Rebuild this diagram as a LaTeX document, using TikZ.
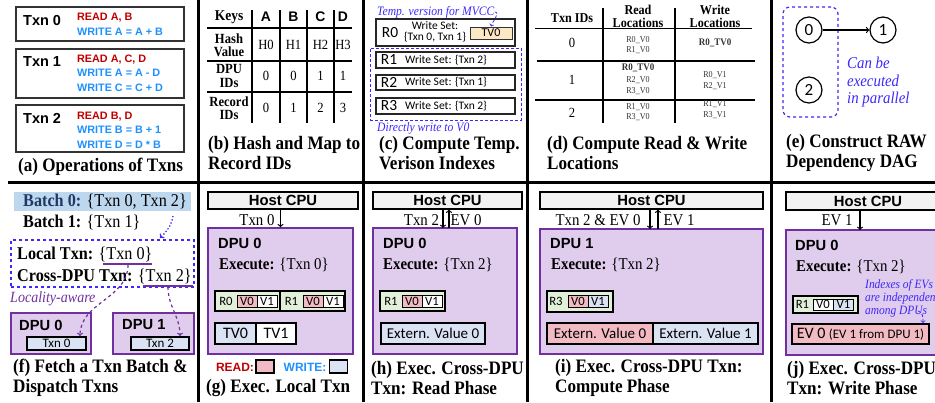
\documentclass[tikz,border=0pt]{standalone}
\usepackage{fontspec}
\setmainfont{Liberation Serif}[FakeStretch=0.9]
\setsansfont{Liberation Sans}
\newfontfamily\calfont{Carlito}
\newcommand{\fsz}[2]{\fontsize{#1}{#2}\selectfont}
\definecolor{rdtxt}{RGB}{192,0,0}
\definecolor{bltxt}{RGB}{30,144,255}
\definecolor{notecol}{RGB}{60,40,250}
\definecolor{dpupurple}{RGB}{112,48,160}
\definecolor{dpufill}{RGB}{224,204,236}
\definecolor{readfill}{RGB}{242,186,194}
\definecolor{writefill}{RGB}{218,227,243}
\definecolor{recfill}{RGB}{226,240,217}
\definecolor{tvfill}{RGB}{252,232,196}
\definecolor{hostfill}{RGB}{242,242,242}
\definecolor{batchfill}{RGB}{189,215,238}
\definecolor{batchtxt}{RGB}{31,56,100}
\tikzstyle{caption}=[anchor=west, inner sep=0pt, align=left, font=\bfseries\fsz{19}{20}]
\tikzstyle{frame}=[line width=3pt]
\tikzstyle{opbox}=[draw=black!80, line width=1.2pt, minimum width=168pt, inner sep=0pt]
\tikzstyle{txnlbl}=[anchor=west, inner sep=0pt, font=\sffamily\bfseries\fsz{14.5}{16}]
\tikzstyle{ops}=[anchor=west, inner sep=0pt, align=left, font=\sffamily\bfseries\fsz{10.8}{14.5}]
\tikzstyle{tbl}=[line width=1.4pt]
\tikzstyle{hdr}=[inner sep=0pt, align=center, font=\bfseries\fsz{15}{12}]
\tikzstyle{colhdr}=[inner sep=0pt, align=center, font=\bfseries\fsz{13.5}{12.5}]
\tikzstyle{colkey}=[inner sep=0pt, font=\sffamily\bfseries\fsz{13.9}{14}]
\tikzstyle{rowlbl}=[inner sep=0pt, align=center, font=\bfseries\fsz{14}{13.3}]
\tikzstyle{val}=[inner sep=0pt, font=\fsz{14}{14}]
\tikzstyle{note}=[inner sep=0pt, text=notecol, font=\itshape\fsz{12.9}{13}]
\tikzstyle{recrow}=[draw=black!85, line width=1.3pt, minimum width=139pt, inner sep=0pt]
\tikzstyle{rid}=[inner sep=0pt, font=\calfont\fsz{15.5}{16}]
\tikzstyle{wset}=[inner sep=0pt, align=center, font=\calfont\fsz{11.5}{11}]
\tikzstyle{loc}=[inner sep=0pt, align=center, text=black!80, font=\fsz{9}{10.5}]
\tikzstyle{state}=[circle, draw, line width=1.2pt, minimum size=26pt, inner sep=0pt, font=\calfont\fsz{17}{17}]
\tikzstyle{btxt}=[anchor=west, inner sep=0pt, font=\fsz{18}{20}]
\tikzstyle{dpu}=[draw=dpupurple, fill=dpufill, line width=1.5pt, inner sep=0pt]
\tikzstyle{dpulbl}=[anchor=west, inner sep=0pt, font=\sffamily\bfseries\fsz{14.7}{15}]
\tikzstyle{txcell}=[draw, fill=writefill, line width=1.1pt, minimum height=13pt, inner sep=0pt, font=\calfont\fsz{13}{13}]
\tikzstyle{host}=[draw, fill=hostfill, line width=1.1pt, inner sep=0pt, font=\sffamily\bfseries\fsz{14.8}{15}]
\tikzstyle{flow}=[->, line width=1.2pt]
\tikzstyle{lbl}=[inner sep=0pt, font=\fsz{16.5}{17}]
\tikzstyle{exec}=[anchor=west, inner sep=0pt, font=\fsz{16.5}{17}]
\tikzstyle{rec}=[draw, fill=recfill, line width=1.1pt, minimum width=65pt, minimum height=20pt, inner sep=0pt]
\tikzstyle{rlbl}=[inner sep=0pt, font=\calfont\fsz{12.7}{13}]
\tikzstyle{cell}=[draw, fill=white, line width=0.9pt, minimum width=20pt, minimum height=12pt, inner sep=0pt, font=\calfont\fsz{12.7}{13}]
\tikzstyle{wide}=[draw, fill=white, line width=1.1pt, minimum height=21pt, inner sep=0pt, font=\calfont\fsz{15}{16}]
\tikzstyle{swatch}=[draw, line width=1.2pt, minimum width=18pt, minimum height=13pt, inner sep=0pt]
\begin{document}
\begin{tikzpicture}[x=1pt, y=-1pt]
\useasboundingbox (0, 0) rectangle (935, 402);
\draw[frame] (8, 182) -- (935, 182);
\draw[frame] (198, 0) -- (198, 402);
\draw[frame] (363, 0) -- (363, 402);
\draw[frame] (527, 0) -- (527, 402);
\draw[frame] (771, 0) -- (771, 402);

\node[opbox, minimum height=34pt] at (100, 24) (box0) {};
\node[opbox, minimum height=49pt] at (100, 73.5) (box1) {};
\node[opbox, minimum height=47pt] at (100, 128.5) (box2) {};
\node[txnlbl] at (23, 21) (lbl0) {Txn 0};
\node[txnlbl] at (23, 62) (lbl1) {Txn 1};
\node[txnlbl] at (23, 118) (lbl2) {Txn 2};
\node[ops] at (77, 24.5) (ops0) {\textcolor{rdtxt}{READ A, B}\\\textcolor{bltxt}{WRITE A = A + B}};
\node[ops] at (77, 73) (ops1) {\textcolor{rdtxt}{READ A, C, D}\\\textcolor{bltxt}{WRITE A = A - D}\\\textcolor{bltxt}{WRITE C = C + D}};
\node[ops] at (77, 130) (ops2) {\textcolor{rdtxt}{READ B, D}\\\textcolor{bltxt}{WRITE B = B + 1}\\\textcolor{bltxt}{WRITE D = D * B}};
\node[caption] at (18, 167) (capa) {(a) Operations of Txns};

\draw[tbl] (252, 10) -- (252, 123);
\draw[tbl] (280, 10) -- (280, 123);
\draw[tbl] (307, 10) -- (307, 123);
\draw[tbl] (334, 10) -- (334, 123);
\draw[tbl] (207, 28) -- (352, 28);
\draw[tbl] (207, 61) -- (352, 61);
\draw[tbl] (207, 92) -- (352, 92);
\node[hdr] at (229, 17) (keys) {Keys};
\node[colkey] at (266, 17) (ka) {A};
\node[colkey] at (293.5, 17) (kb) {B};
\node[colkey] at (320.5, 17) (kc) {C};
\node[colkey] at (343, 17) (kd) {D};
\node[rowlbl] at (229, 45) (hashrow) {Hash\\Value};
\node[rowlbl] at (229, 76) (dpurow) {DPU\\IDs};
\node[rowlbl] at (229, 108) (recrow) {Record\\IDs};
\node[val] at (266, 45) (ha) {H0};
\node[val] at (293.5, 45) (hb) {H1};
\node[val] at (320.5, 45) (hc) {H2};
\node[val] at (343, 45) (hd) {H3};
\node[val] at (266, 76) (da) {0};
\node[val] at (293.5, 76) (db) {0};
\node[val] at (320.5, 76) (dc) {1};
\node[val] at (343, 76) (dd) {1};
\node[val] at (266, 108) (ra) {0};
\node[val] at (293.5, 108) (rb) {1};
\node[val] at (320.5, 108) (rc) {2};
\node[val] at (343, 108) (rd) {3};
\node[caption] at (208, 153) (capb) {(b) Hash and Map to\\Record IDs};

\node[note, anchor=west] at (377, 12) (mvcc) {Temp. version for MVCC};
\node[recrow, minimum height=27pt] at (445.5, 32.5) (r0row) {};
\node[rid] at (390, 32.5) (r0id) {R0};
\node[wset] at (435, 31.5) (r0set) {Write Set:\\\{Txn 0, Txn 1\}};
\node[draw=black!80, fill=tvfill, line width=1pt, minimum width=42pt, minimum height=12pt, inner sep=0pt, font=\calfont\fsz{12}{12}] at (491, 33) (tv0c) {TV0};
\draw[->, densely dashed, notecol, line width=0.8pt] (mvcc.east) to[out=0, in=70] (tv0c.north);
\node[draw=notecol, densely dashed, line width=1pt, minimum width=151pt, minimum height=72pt, inner sep=0pt] at (445.5, 84) (dgroup) {};
\node[recrow, minimum height=16pt] at (445.5, 60) (r1row) {};
\node[rid] at (389, 60) (r1id) {R1};
\node[wset] at (446, 60) (r1set) {Write Set: \{Txn 2\}};
\node[recrow, minimum height=15pt] at (445.5, 82.5) (r2row) {};
\node[rid] at (389, 82.5) (r2id) {R2};
\node[wset] at (446, 82.5) (r2set) {Write Set: \{Txn 1\}};
\node[recrow, minimum height=16pt] at (445.5, 106) (r3row) {};
\node[rid] at (389, 106) (r3id) {R3};
\node[wset] at (446, 106) (r3set) {Write Set: \{Txn 2\}};
\node[note, anchor=west] at (377, 128) (direct) {Directly write to V0};
\node[caption] at (379, 153) (capc) {(c) Compute Temp.\\Verison Indexes};

\draw[tbl] (603, 8) -- (603, 123);
\draw[tbl] (675, 8) -- (675, 123);
\draw[line width=0.8pt] (535, 28) -- (752, 28);
\draw[line width=1.8pt] (537, 61) -- (755, 61);
\draw[tbl] (535, 100) -- (755, 100);
\node[colhdr] at (572, 18) (tidh) {Txn IDs};
\node[colhdr] at (638, 16.5) (rlh) {Read\\Locations};
\node[colhdr] at (715, 16.5) (wlh) {Write\\Locations};
\node[val] at (572, 43) (tid0) {0};
\node[val] at (572, 80) (tid1) {1};
\node[val] at (572, 113) (tid2) {2};
\node[loc] at (638, 45) (rd0) {R0\_V0\\R1\_V0};
\node[loc] at (715, 43) (wr0) {\textbf{\fsz{10}{10.5}R0\_TV0}};
\node[loc, font=\fsz{9}{11.5}] at (638, 79.5) (rd1) {\textbf{\fsz{10}{11.5}R0\_TV0}\\R2\_V0\\R3\_V0};
\node[loc] at (715, 80.5) (wr1) {R0\_V1\\R2\_V1};
\node[loc] at (638, 112) (rd2) {R1\_V0\\R3\_V0};
\node[loc] at (715, 109.5) (wr2) {R1\_V1\\R3\_V1};
\node[caption] at (547, 153) (capd) {(d) Compute Read \& Write\\Locations};

\node[draw=notecol, dashed, line width=1.2pt, rounded corners=7pt, minimum width=55pt, minimum height=110pt, inner sep=0pt] at (810.5, 62) (pgroup) {};
\node[state] at (809, 30) (n0) {0};
\node[state] at (883, 30) (n1) {1};
\node[state] at (809, 90) (n2) {2};
\draw[->, line width=1.2pt] (n0) -- (n1);
\node[note, anchor=west, align=left, font=\itshape\fsz{16.5}{17.5}] at (847, 82.5) (partxt) {Can be\\executed\\in parallel};
\node[caption] at (786, 153) (cape) {(e) Construct RAW\\Dependency DAG};

\node[fill=batchfill, minimum width=177pt, minimum height=19pt, inner sep=0pt] at (102.5, 201.5) (bhl) {};
\node[btxt] at (23, 202) (b0) {\textcolor{batchtxt}{\textbf{Batch 0:}} \{Txn 0, Txn 2\}};
\node[btxt] at (23, 222) (b1) {\textbf{Batch 1:} \{Txn 1\}};
\node[draw=notecol, dashed, line width=1.2pt, minimum width=183pt, minimum height=47pt, inner sep=0pt] at (102.5, 263.5) (dbox) {};
\coordinate (dotstart) at (173, 216);
\coordinate (dotend) at (160, 238);
\draw[->, dotted, line width=1.3pt, notecol] (dotstart) to[out=-100, in=45] (dotend);
\node[btxt] at (17, 254) (loctx) {\textbf{Local Txn:} \{Txn 0\}};
\node[btxt] at (17, 276) (crosstx) {\textbf{Cross-DPU Txn:} \{Txn 2\}};
\coordinate (u0a) at (103, 264);
\coordinate (u0b) at (152, 264);
\coordinate (u2a) at (143, 286);
\coordinate (u2b) at (193, 286);
\draw[dpupurple, line width=1.6pt] (u0a) -- (u0b);
\draw[dpupurple, line width=1.6pt] (u2a) -- (u2b);
\node[anchor=west, inner sep=0pt, text=dpupurple, font=\itshape\fsz{15.6}{16}] at (10, 299) (lawr) {Locality-aware};
\node[dpu, minimum width=80pt, minimum height=41pt] at (51, 333.5) (fdpu0) {};
\node[dpulbl] at (19, 325) (fdpu0l) {DPU 0};
\node[txcell, minimum width=59pt] at (56.5, 343.5) (ftx0) {Txn 0};
\node[dpu, minimum width=81pt, minimum height=41pt] at (153.5, 333.5) (fdpu1) {};
\node[dpulbl] at (122, 325) (fdpu1l) {DPU 1};
\node[txcell, minimum width=58pt] at (160, 343.5) (ftx2) {Txn 2};
\coordinate (s0) at (128, 265);
\coordinate (e0) at (80, 336);
\coordinate (s2) at (168, 287);
\coordinate (e2) at (180, 336);
\draw[->, dashed, dpupurple, line width=1.2pt] (s0) to[out=-90, in=90] (e0);
\draw[->, dashed, dpupurple, line width=1.2pt] (s2) to[out=-90, in=90] (e2);
\node[caption] at (13, 378) (capf) {(f) Fetch a Txn Batch \&\\Dispatch Txns};

\node[host, minimum width=150pt, minimum height=17pt] at (283, 200.5) (hostg) {Host CPU};
\node[dpu, minimum width=145pt, minimum height=126pt] at (280.5, 291) (dpug) {};
\draw[flow] (dpug.north |- hostg.south) -- (dpug.north);
\node[lbl] at (257, 220) (sendg) {Txn 0};
\node[dpulbl] at (218, 243) (dpugl) {DPU 0};
\node[exec] at (219, 265) (execg) {\textbf{Execute:} \{Txn 0\}};
\node[rec] at (247.5, 301) (rec0g) {};
\node[rlbl] at (226, 301) (rid0g) {R0};
\node[cell, fill=readfill] at (247, 301) (v00g) {V0};
\node[cell] at (267, 301) (v01g) {V1};
\node[rec] at (312.5, 301) (rec1g) {};
\node[rlbl] at (291.5, 301) (rid1g) {R1};
\node[cell, fill=readfill] at (313, 301) (v10g) {V0};
\node[cell] at (333, 301) (v11g) {V1};
\node[wide, fill=writefill, minimum width=41pt, font=\calfont\fsz{16}{16}] at (235.5, 333.5) (tv0g) {TV0};
\node[wide, minimum width=40pt, font=\calfont\fsz{16}{16}] at (276, 333.5) (tv1g) {TV1};
\node[inner sep=0pt, text=rdtxt, font=\sffamily\bfseries\fsz{12}{12}] at (235, 367) (legr) {READ:};
\node[swatch, fill=readfill] at (265, 366.5) (legrsw) {};
\node[inner sep=0pt, text=bltxt, font=\sffamily\bfseries\fsz{12}{12}] at (305, 367) (legw) {WRITE:};
\node[swatch, fill=writefill] at (338.5, 366.5) (legwsw) {};
\node[caption] at (206, 388) (capg) {(g) Exec. Local Txn};

\node[host, minimum width=149pt, minimum height=17pt] at (447.5, 200.5) (hosth) {Host CPU};
\node[dpu, minimum width=144pt, minimum height=126pt] at (445, 291) (dpuh) {};
\coordinate (hdn) at (443, 228);
\coordinate (hup) at (449, 228);
\draw[flow] (hdn |- hosth.south) -- (hdn);
\draw[flow] (hup) -- (hup |- hosth.south);
\node[lbl] at (421.5, 220) (sendh) {Txn 2};
\node[lbl] at (466, 220) (backh) {EV 0};
\node[dpulbl] at (383, 243) (dpuhl) {DPU 0};
\node[exec] at (383, 265) (exech) {\textbf{Execute:} \{Txn 2\}};
\node[rec] at (412.5, 301) (rech) {};
\node[rlbl] at (391, 301) (ridh) {R1};
\node[cell, fill=readfill] at (412, 301) (v0h) {V0};
\node[cell] at (432, 301) (v1h) {V1};
\node[wide, fill=writefill, minimum width=104pt] at (433, 333.5) (exth) {Extern. Value 0};
\node[caption] at (371, 378) (caph) {(h) Exec. Cross-DPU\\Txn: Read Phase};

\node[host, minimum width=223pt, minimum height=17pt] at (651.5, 200.5) (hosti) {Host CPU};
\node[dpu, minimum width=223pt, minimum height=125pt] at (651.5, 291.5) (dpui) {};
\coordinate (idn) at (650, 229);
\coordinate (iup) at (658, 229);
\draw[flow] (idn |- hosti.south) -- (idn);
\draw[flow] (iup) -- (iup |- hosti.south);
\node[lbl] at (598, 220) (sendi) {Txn 2 \& EV 0};
\node[lbl] at (679, 220) (backi) {EV 1};
\node[dpulbl] at (550, 244) (dpuil) {DPU 1};
\node[exec] at (551, 265) (execi) {\textbf{Execute:} \{Txn 2\}};
\node[rec, minimum width=66pt, minimum height=21pt] at (580, 301.5) (reci) {};
\node[rlbl] at (556, 301.5) (ridi) {R3};
\node[cell, fill=readfill] at (578, 301.5) (v0i) {V0};
\node[cell, fill=writefill] at (598, 301.5) (v1i) {V1};
\node[wide, fill=readfill, minimum width=106pt] at (600, 333.5) (ext0i) {Extern. Value 0};
\node[wide, fill=writefill, minimum width=105pt] at (705.5, 333.5) (ext1i) {Extern. Value 1};
\node[caption] at (555, 378) (capi) {(i) Exec. Cross-DPU Txn:\\Compute Phase};

\node[host, minimum width=164pt, minimum height=18pt] at (868, 201) (hostj) {Host CPU};
\node[dpu, minimum width=164pt, minimum height=125pt] at (868, 292.5) (dpuj) {};
\coordinate (jdn) at (860, 230);
\draw[flow] (jdn |- hostj.south) -- (jdn);
\node[lbl] at (837, 220) (sendj) {EV 1};
\node[dpulbl] at (795, 245) (dpujl) {DPU 0};
\node[exec] at (796, 267) (execj) {\textbf{Execute:} \{Txn 2\}};
\node[rec, minimum height=17pt] at (825.5, 304.5) (recj) {};
\node[rlbl] at (802.5, 304.5) (ridj) {R1};
\node[cell, minimum height=11pt] at (823, 304.5) (v0j) {V0};
\node[cell, fill=writefill, minimum height=11pt] at (843.5, 304.5) (v1j) {V1};
\node[note, anchor=west, align=left, font=\itshape\fsz{12.7}{13}] at (865, 298) (evnote) {Indexes of EVs\\are independent\\among DPUs};
\node[wide, fill=readfill, minimum width=137pt, minimum height=20pt] at (860.5, 334) (evj) {{\fsz{16}{16}EV 0} {\fsz{13}{13}(EV 1 from DPU 1)}};
\coordinate (evfrom) at (918, 311);
\coordinate (evtip) at (923, 323);
\draw[->, densely dashed, notecol, line width=0.8pt] (evfrom) to[out=-10, in=90] (evtip);
\node[caption] at (787, 378) (capj) {(j) Exec. Cross-DPU\\Txn: Write Phase};
\end{tikzpicture}
\end{document}
